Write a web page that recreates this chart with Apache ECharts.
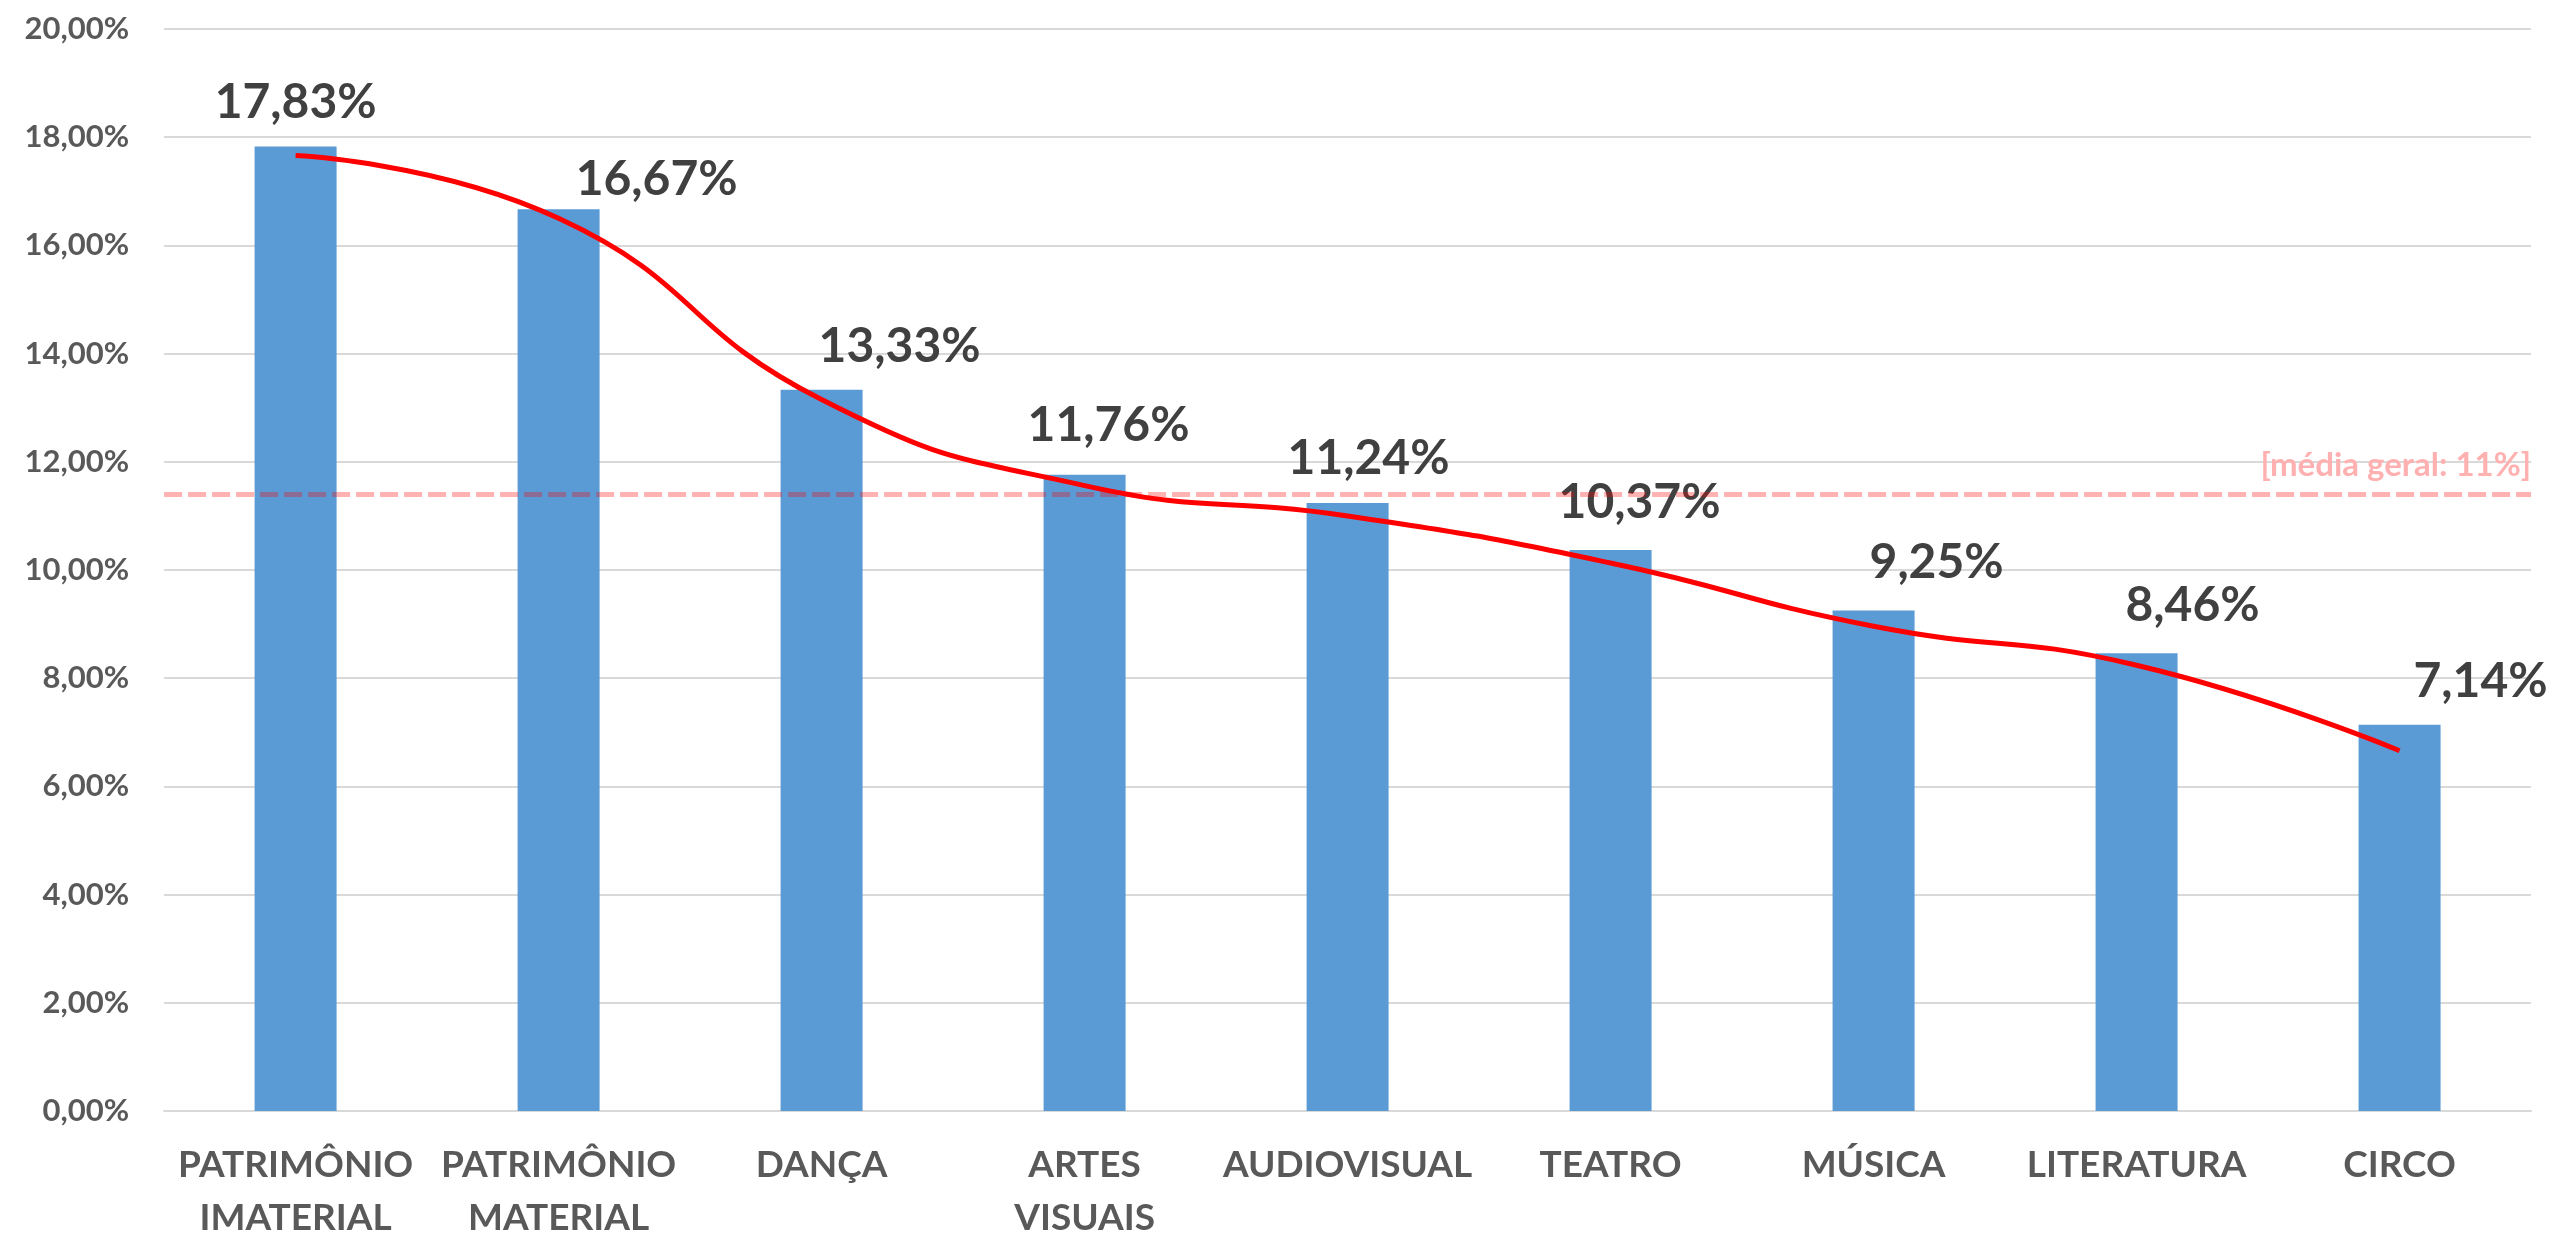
<!DOCTYPE html>
<html>
<head>
<meta charset="utf-8">
<script src="https://cdn.jsdelivr.net/npm/echarts@6/dist/echarts.min.js"></script>
<style>
    html, body { margin: 0; padding: 0; background: #fff; overflow: hidden; }
    #chart { width: 100vw; height: 100vh; }
</style>
</head>
<body>
<div id="chart"></div>
<script>
    // dados
    var categorias = ['PATRIMÔNIO IMATERIAL', 'PATRIMÔNIO MATERIAL', 'DANÇA', 'ARTES VISUAIS',
        'AUDIOVISUAL', 'TEATRO', 'MÚSICA', 'LITERATURA', 'CIRCO'];
    var percentuais = [17.83, 16.67, 13.33, 11.76, 11.24, 10.37, 9.25, 8.46, 7.14];
    // linha de tendência
    var tendencia = [17.66, 16.5, 13.15, 11.56, 11.0, 10.13, 8.96, 8.24, 6.66];
    var mediaGeral = 11.4;
    var mediaTexto = '[média geral: 11%]';
    var yMin = 0, yMax = 20, yPasso = 2;

    // deslocamento dos rótulos, como no original
    var ajusteRotulos = [[0, 0], [98, 14], [78, 1], [24, -5], [21, 0], [29, -3], [63, -4], [56, -4], [81, 1]];

    function pct(v) {
        return v.toFixed(2).replace('.', ',') + '%';
    }

    var chart = echarts.init(document.getElementById('chart'));

    var barData = percentuais.map(function (v, i) {
        return {
            value: v,
            label: { offset: ajusteRotulos[i] }
        };
    });

    var option = {
        backgroundColor: '#fff',
        animation: false,
        textStyle: { fontFamily: 'Lato' },
        grid: { left: '6.43%', right: '0.82%', top: '2.33%', bottom: '9.96%' },
        xAxis: {
            type: 'category',
            data: categorias,
            axisLine: { lineStyle: { color: '#d9d9d9', width: 2 } },
            axisTick: { show: false },
            axisLabel: {
                color: '#595959',
                fontWeight: 'bold',
                fontSize: 37,
                lineHeight: 53,
                margin: 28,
                interval: 0,
                formatter: function (v) { return v.replace(' ', '\n'); }
            }
        },
        yAxis: {
            type: 'value',
            min: yMin,
            max: yMax,
            interval: yPasso,
            axisLine: { show: false },
            axisTick: { show: false },
            splitLine: { lineStyle: { color: '#d9d9d9', width: 2 } },
            axisLabel: {
                color: '#595959',
                fontWeight: 'bold',
                fontSize: 31,
                margin: 35,
                formatter: function (v) { return pct(v); }
            }
        },
        series: [
            {
                type: 'bar',
                data: barData,
                barWidth: 82,
                itemStyle: { color: '#5b9bd5' },
                label: {
                    show: true,
                    position: 'top',
                    distance: 20,
                    color: '#404040',
                    fontWeight: 'bold',
                    fontSize: 48,
                    formatter: function (p) { return pct(p.value); }
                },
                markLine: {
                    silent: true,
                    symbol: 'none',
                    lineStyle: { color: 'rgba(255,0,0,0.3)', width: 5, type: [18, 6] },
                    label: {
                        show: true,
                        position: 'insideEndTop',
                        distance: [0, 12],
                        color: '#ffb1b1',
                        fontWeight: 'bold',
                        fontSize: 33,
                        formatter: mediaTexto
                    },
                    data: [{ yAxis: mediaGeral }]
                }
            },
            {
                type: 'line',
                data: tendencia,
                smooth: 0.5,
                showSymbol: false,
                lineStyle: { color: '#ff0000', width: 5 },
                z: 5
            }
        ]
    };

    chart.setOption(option);
    window.addEventListener('resize', function () {
        chart.resize();
    });
</script>
</body>
</html>
